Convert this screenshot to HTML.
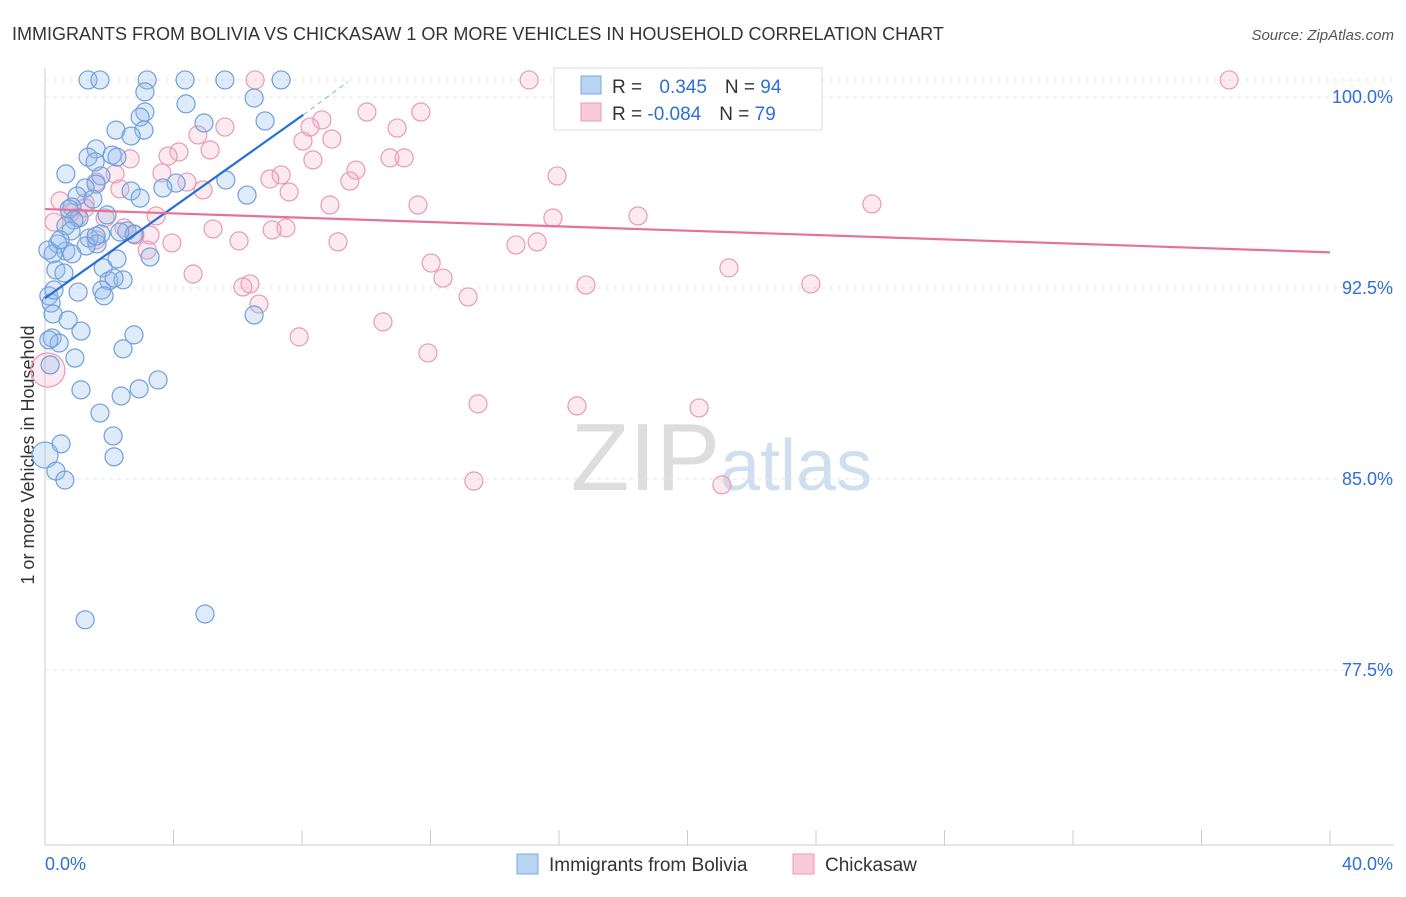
<!DOCTYPE html>
<html><head><meta charset="utf-8"><style>
body{margin:0;background:#fff;font-family:"Liberation Sans",sans-serif;}
svg text{font-family:"Liberation Sans",sans-serif;}
</style></head><body>
<svg id="c" width="1406" height="892" xmlns="http://www.w3.org/2000/svg">
<text x="12" y="40" font-size="18" fill="#333">IMMIGRANTS FROM BOLIVIA VS CHICKASAW 1 OR MORE VEHICLES IN HOUSEHOLD CORRELATION CHART</text>
<text x="1394" y="40" font-size="15" fill="#555" font-style="italic" text-anchor="end">Source: ZipAtlas.com</text>
<text x="720" y="490" font-size="96" fill="#ddd" text-anchor="end" font-family="Liberation Serif">ZIP</text>
<text x="720" y="490" font-size="72" fill="#cfdff0">atlas</text>
<text transform="translate(34,455) rotate(-90)" font-size="18" fill="#333" text-anchor="middle">1 or more Vehicles in Household</text>
<g id="grid"></g><g id="ticks"></g><g id="pts"></g><g id="lines"></g>
<g>
<rect x="554" y="68" width="268" height="62" fill="#fff" stroke="#ddd"/>
<rect x="581" y="76" width="20" height="18" fill="#b9d3f3" stroke="#7aa8e0"/>
<rect x="581" y="103" width="20" height="18" fill="#f9cad8" stroke="#e89ab4"/>
<text x="612" y="93" font-size="19" fill="#333">R = <tspan fill="#2f6fd6" dx="12">0.345</tspan><tspan fill="#333" dx="18">N = </tspan><tspan fill="#2f6fd6">94</tspan></text>
<text x="612" y="120" font-size="19" fill="#333">R = <tspan fill="#2f6fd6">-0.084</tspan><tspan fill="#333" dx="18">N = </tspan><tspan fill="#2f6fd6">79</tspan></text>
</g>
<g>
<rect x="517" y="854" width="21" height="20" fill="#b9d3f3" stroke="#7aa8e0"/>
<text x="549" y="871" font-size="19" fill="#333">Immigrants from Bolivia</text>
<rect x="793" y="854" width="21" height="20" fill="#f9cad8" stroke="#e89ab4"/>
<text x="825" y="871" font-size="19" fill="#333">Chickasaw</text>
</g>
</svg>
<script>
const blueX=[1.34,1.71,3.18,4.36,5.60,7.35,3.11,4.39,6.51,3.11,2.96,6.85,4.95,2.21,3.08,2.68,1.59,1.34,2.09,2.24,1.56,0.65,1.74,5.63,4.08,3.67,1.59,1.25,2.68,6.29,2.96,1.00,1.49,0.84,0.75,1.93,1.06,0.90,0.65,0.81,2.55,2.77,1.74,1.37,1.62,0.40,1.28,0.65,0.84,0.25,2.24,3.27,1.81,0.34,0.59,1.99,2.43,2.15,1.03,1.77,1.84,0.12,0.19,0.25,6.51,0.72,1.12,2.77,0.22,0.44,2.43,0.93,0.16,3.52,1.12,2.93,2.37,1.71,2.12,0.50,2.15,0.0,0.34,0.62,1.25,4.98,0.12,0.28,0.09,2.33,1.59,0.47];
const blueY=[100.67,100.67,100.67,100.67,100.67,100.67,100.20,99.73,99.96,99.41,99.21,99.06,98.98,98.70,98.70,98.47,97.96,97.64,97.72,97.64,97.45,96.98,96.90,96.74,96.62,96.43,96.58,96.43,96.31,96.15,96.03,96.11,95.99,95.68,95.60,95.37,95.25,95.17,94.94,94.74,94.74,94.62,94.62,94.46,94.23,94.23,94.15,93.95,93.84,93.84,93.64,93.72,93.29,93.21,93.09,92.78,92.82,92.89,92.34,92.42,92.19,92.19,91.91,91.48,91.44,91.24,90.81,90.66,90.54,90.34,90.11,89.75,89.48,88.89,88.50,88.54,88.26,87.59,86.69,86.38,85.87,85.94,85.31,84.96,79.47,79.70,90.46,92.42,93.99,94.70,94.54,94.39];
const pinkX=[15.07,18.30,36.86,6.54,10.02,11.70,8.62,8.25,10.96,5.60,4.76,8.93,8.03,5.14,4.17,3.83,8.34,10.74,11.18,2.65,9.68,3.64,7.35,15.94,2.18,7.00,4.42,1.59,9.49,2.33,7.60,4.92,0.47,1.25,8.87,11.61,25.74,18.46,15.81,3.46,1.00,1.87,0.28,5.23,7.50,7.07,2.46,3.27,2.80,1.59,6.04,3.95,9.12,15.32,14.66,3.18,12.02,21.29,4.61,12.39,16.84,23.84,6.38,6.16,13.17,6.66,10.52,7.91,11.92,0.09,13.48,16.56,20.36,13.35,21.07,0.78,1.25];
const pinkY=[100.67,100.67,100.67,100.67,99.41,99.41,99.10,98.82,98.78,98.82,98.51,98.35,98.27,97.92,97.84,97.68,97.53,97.61,97.61,97.57,97.13,97.02,96.94,96.90,96.98,96.78,96.66,96.66,96.70,96.39,96.27,96.35,95.92,95.84,95.76,95.76,95.80,95.33,95.25,95.33,95.29,95.25,95.09,94.82,94.86,94.78,94.86,94.58,94.58,94.39,94.35,94.27,94.31,94.31,94.19,93.99,93.48,93.29,93.05,92.89,92.62,92.66,92.66,92.54,92.15,91.87,91.17,90.58,89.95,89.28,87.95,87.87,87.79,84.92,84.77,95.45,95.64];
const yTicks=[100,92.5,85,77.5];
const yTickLabels=["100.0%","92.5%","85.0%","77.5%"];
const xTicks=[0,4,8,12,16,20,24,28,32,36,40];
const blueTrend=[[0,92.1],[8.04,99.3]];
const blueDash=[[8.04,99.3],[9.43,100.6]];
const pinkTrend=[[0,95.6],[40,93.9]];
const sx=v=>45+v/40*1285;
const sy=v=>97+(100-v)/7.5*191;
const NS="http://www.w3.org/2000/svg";
function mk(tag,at,parent){const e=document.createElementNS(NS,tag);for(const k in at)e.setAttribute(k,at[k]);document.getElementById(parent).appendChild(e);return e;}
yTicks.forEach((t,i)=>{
 const l=mk('line',{x1:45,x2:1394,y1:sy(t),y2:sy(t),stroke:'#e4e4e4','stroke-dasharray':'4,4'},'grid');
 
 
 const tx=mk('text',{x:1393,y:sy(t)+6,'font-size':18,fill:'#2f6fd6','text-anchor':'end'},'ticks');
 tx.textContent=yTickLabels[i];
 
 
});
mk('line',{x1:45,x2:1394,y1:sy(100)-17,y2:sy(100)-17,stroke:'#e4e4e4','stroke-dasharray':'4,4'},'grid');
const ax=mk('line',{x1:45,x2:45,y1:68,y2:845,stroke:'#ccc'},'grid');


const bx=mk('line',{x1:45,x2:1394,y1:845,y2:845,stroke:'#ccc'},'grid');


xTicks.forEach(t=>{const l=mk('line',{x1:sx(t),x2:sx(t),y1:830,y2:845,stroke:'#ccc'},'ticks');
 
 });
const xl0=mk('text',{x:45,y:870,'font-size':18,fill:'#2f6fd6'},'ticks');xl0.textContent='0.0%';


const xl1=mk('text',{x:1393,y:870,'font-size':18,fill:'#2f6fd6','text-anchor':'end'},'ticks');xl1.textContent='40.0%';


pinkX.forEach((x,i)=>{const c=mk('circle',{cx:sx(x),cy:sy(pinkY[i]),r:(x<0.2&&pinkY[i]<90)?17:9,fill:'rgba(245,170,195,0.25)',stroke:'#e89ab4','stroke-width':1.2},'pts');
 
 });
blueX.forEach((x,i)=>{const c=mk('circle',{cx:sx(x),cy:sy(blueY[i]),r:(x===0)?13:9,fill:'rgba(150,190,235,0.3)',stroke:'#6f9fdc','stroke-width':1.2},'pts');
 
 });
const bt=mk('line',{x1:sx(blueTrend[0][0]),y1:sy(blueTrend[0][1]),x2:sx(blueTrend[1][0]),y2:sy(blueTrend[1][1]),stroke:'#2a6fd6','stroke-width':2.2},'lines');


const bd=mk('line',{x1:sx(blueDash[0][0]),y1:sy(blueDash[0][1]),x2:sx(blueDash[1][0]),y2:sy(blueDash[1][1]),stroke:'#9cbbe6','stroke-width':1.2,'stroke-dasharray':'5,4'},'lines');


const pt=mk('line',{x1:sx(pinkTrend[0][0]),y1:sy(pinkTrend[0][1]),x2:sx(pinkTrend[1][0]),y2:sy(pinkTrend[1][1]),stroke:'#e8719a','stroke-width':2.2},'lines');


</script>
</body></html>
